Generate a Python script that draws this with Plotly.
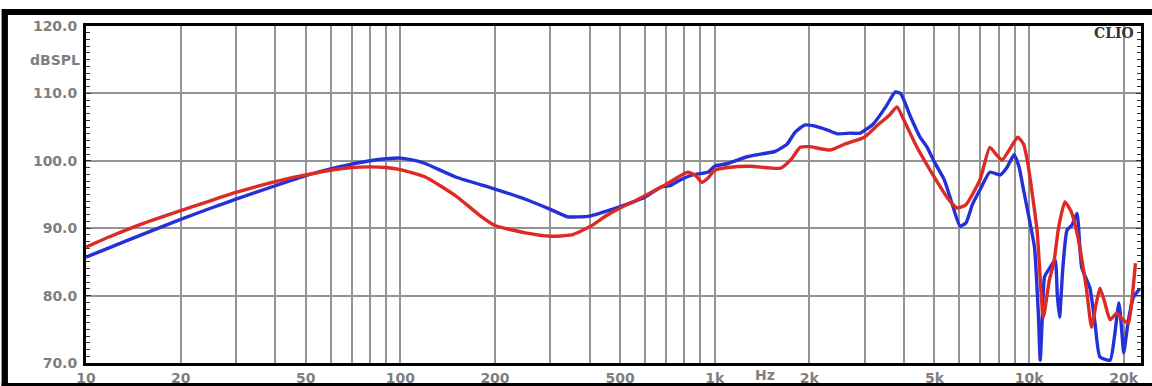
import plotly.graph_objects as go

# ---- data ----
blue_freq = [10, 12, 15, 20, 25, 30, 40, 50, 60, 70, 80, 90, 100, 110, 120, 150, 200, 250, 300, 340,
             400, 450, 500, 550, 600, 675, 720, 780, 850, 950, 1000, 1100, 1270, 1400, 1560, 1700,
             1800, 1930, 2100, 2300, 2460, 2700, 2900, 3200, 3500, 3750, 3900, 4200, 4500, 4740,
             5000, 5370, 5700, 6030, 6300, 6600, 6980, 7500, 8100, 8500, 8960, 9300, 9600, 10000,
             10400, 10700, 10850, 11000, 11200, 11600, 12100, 12300, 12500, 12800, 13200, 13700,
             14200, 14700, 15600, 16200, 16800, 18100, 18700, 19300, 19700, 20000, 20700, 21500, 22500]
blue_db = [85.7, 87.2, 89.0, 91.3, 93.0, 94.3, 96.3, 97.8, 98.8, 99.5, 100.0, 100.3, 100.4, 100.1, 99.6,
           97.6, 95.8, 94.3, 92.8, 91.7, 91.8, 92.5, 93.2, 93.9, 94.6, 96.1, 96.3, 97.2, 97.9, 98.3,
           99.2, 99.6, 100.6, 101.0, 101.4, 102.5, 104.2, 105.3, 105.1, 104.5, 104.0, 104.1, 104.1,
           105.5, 108.0, 110.2, 110.0, 106.5, 103.5, 102.0, 99.8, 97.2, 93.5, 90.3, 90.8, 93.5, 95.7,
           98.3, 97.9, 99.0, 100.9, 99.0, 95.7, 91.5, 87.2, 77.4, 70.4, 76.0, 82.8, 84.0, 85.3, 80.0,
           76.8, 84.0, 89.7, 90.5, 92.2, 84.2, 81.2, 76.0, 70.9, 70.4, 74.0, 78.9, 75.0, 71.5, 76.4,
           79.8, 81.0]

red_freq = [10, 12, 15, 20, 25, 30, 40, 50, 60, 70, 80, 90, 100, 120, 150, 180, 200, 250, 300, 350,
            400, 450, 500, 550, 600, 700, 820, 870, 910, 950, 1000, 1100, 1300, 1620, 1750, 1870,
            2000, 2330, 2600, 2990, 3300, 3600, 3800, 4000, 4400, 4990, 5500, 5900, 6300, 6980,
            7500, 7900, 8200, 8700, 9200, 9600, 9900, 10600, 11100, 11600, 12000, 12400, 13000,
            13600, 14200, 15200, 15800, 16300, 16800, 17400, 18100, 19000, 19800, 20700, 21300, 21800]
red_db = [87.2, 88.8, 90.6, 92.6, 94.1, 95.3, 96.9, 97.9, 98.6, 99.0, 99.1, 99.0, 98.7, 97.6, 94.8,
          91.8, 90.4, 89.3, 88.8, 89.0, 90.2, 91.8, 93.0, 93.9, 94.8, 96.5, 98.3, 97.8, 96.8, 97.4,
          98.6, 99.0, 99.2, 98.9, 100.2, 102.0, 102.1, 101.6, 102.5, 103.5, 105.3, 106.8, 108.0,
          106.0, 102.0, 97.6, 94.5, 93.0, 93.5, 97.2, 102.0, 100.8, 100.1, 101.8, 103.5, 102.5,
          99.7, 89.7, 76.8, 82.3, 85.0, 90.0, 93.9, 92.5, 89.3, 81.2, 75.3, 78.5, 81.1, 79.0, 76.4,
          77.4, 76.5, 75.9, 80.0, 84.8]

grid_freqs = [10, 20, 30, 40, 50, 60, 70, 80, 90, 100, 200, 300, 400, 500, 600, 700, 800, 900,
              1000, 2000, 3000, 4000, 5000, 6000, 7000, 8000, 9000, 10000, 20000]
labeled = {10: "10", 20: "20", 50: "50", 100: "100", 200: "200", 500: "500", 1000: "1k",
           2000: "2k", 5000: "5k", 10000: "10k", 20000: "20k"}
grid_text = [labeled.get(f, "") for f in grid_freqs]

y_ticks = [70, 80, 90, 100, 110, 120]

LABEL_FONT = dict(family="DejaVu Sans, Verdana, sans-serif", size=14, color="#7f7f7f", weight="bold")

fig = go.Figure()
fig.add_trace(go.Scatter(x=blue_freq, y=blue_db, mode="lines",
                         line=dict(color="#2530d8", width=3.4, shape="spline", smoothing=0.5),
                         showlegend=False, hoverinfo="skip"))
fig.add_trace(go.Scatter(x=red_freq, y=red_db, mode="lines",
                         line=dict(color="#de2a24", width=3.4, shape="spline", smoothing=0.5),
                         showlegend=False, hoverinfo="skip"))

fig.update_layout(
    width=1152, height=386,
    margin=dict(l=86, r=11, t=26, b=23, autoexpand=False),
    paper_bgcolor="white", plot_bgcolor="white",
    showlegend=False,
    xaxis=dict(type="log", range=[1, 4.356], tickmode="array", tickvals=grid_freqs,
               ticktext=grid_text, showgrid=True, gridcolor="#949494", gridwidth=2,
               showline=True, linecolor="black", linewidth=3, mirror=True, automargin=False,
               ticks="", tickfont=LABEL_FONT, zeroline=False, ticklabelstandoff=0),
    yaxis=dict(range=[70, 120], tickmode="array", tickvals=y_ticks,
               ticktext=[f"{v:.1f}" for v in y_ticks], automargin=False,
               showgrid=True, gridcolor="#949494", gridwidth=2,
               showline=True, linecolor="black", linewidth=3, mirror="allticks",
               ticks="inside", ticklen=5, tickcolor="#333", tickwidth=1,
               minor=dict(dtick=1, ticks="inside", ticklen=4, tickcolor="#333", showgrid=False),
               tickfont=LABEL_FONT, zeroline=False, ticklabelstandoff=3),
)

fig.add_annotation(text="dBSPL", xref="paper", yref="paper", x=-0.004, y=0.90,
                   xanchor="right", yanchor="middle", showarrow=False, font=LABEL_FONT)
fig.add_annotation(text="Hz", xref="paper", yref="paper", x=0.644, y=-0.036,
                   xanchor="center", yanchor="middle", showarrow=False, font=LABEL_FONT)
fig.add_annotation(text="CLIO", xref="paper", yref="paper", x=0.995, y=0.979,
                   xanchor="right", yanchor="middle", showarrow=False,
                   font=dict(family="DejaVu Serif, serif", size=14, color="#333", weight="bold"))

# black frame around the picture
fig.add_shape(type="rect", xref="paper", yref="paper", x0=-0.079, x1=1.011, y0=1.0326, y1=1.0504,
              fillcolor="black", line=dict(width=0), layer="above")
fig.add_shape(type="rect", xref="paper", yref="paper", x0=-0.080, x1=-0.074, y0=-0.07, y1=1.0504,
              fillcolor="black", line=dict(width=0), layer="above")
fig.add_shape(type="rect", xref="paper", yref="paper", x0=-0.080, x1=1.011, y0=-0.07, y1=-0.0593,
              fillcolor="black", line=dict(width=0), layer="above")

post = ("document.body.style.margin='0px';document.body.style.overflow='hidden';"
        "document.documentElement.style.overflow='hidden';"
        "var d=document.getElementById('{plot_id}');d.style.position='fixed';"
        "d.style.top='0px';d.style.left='0px';")

fig.write_html("out.html", config={"displayModeBar": False}, post_script=post)
